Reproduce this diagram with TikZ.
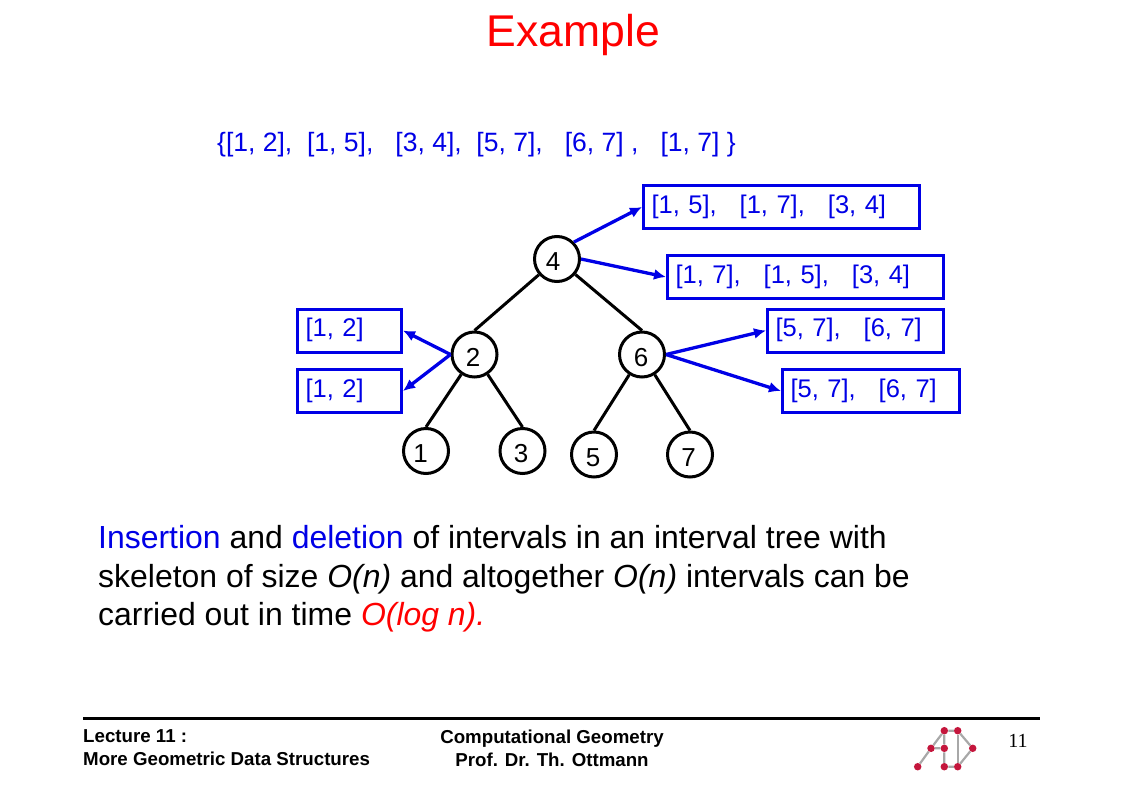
\documentclass[tikz,border=0pt]{standalone}
\usepackage{fontspec}
\setmainfont{Liberation Sans}
\newfontfamily\pagefont{Liberation Serif}
\usetikzlibrary{arrows.meta}
\definecolor{slideblue}{HTML}{0000E6}
\definecolor{slidered}{HTML}{FF0000}
\definecolor{logored}{HTML}{C4163C}
\definecolor{logogray}{HTML}{A8A8A8}
\newcommand{\listgap}{\hspace{23pt}}
\tikzset{
  keynode/.style={draw, circle, line width=3pt, minimum size=45pt, inner sep=0pt,
                  text height=23pt, text depth=0pt,
                  font=\fontsize{26}{30}\selectfont},
  treeedge/.style={line width=3pt},
  listbox/.style={draw=slideblue, text=slideblue, line width=3pt, minimum height=43pt,
                  inner xsep=8pt, inner ysep=0pt, align=left,
                  text height=18pt, text depth=6pt,
                  font=\fontsize{25.5}{30}\selectfont},
  listarrow/.style={line width=3.3pt, slideblue, -{Latex[length=12pt,width=11pt]}},
  footertext/.style={font=\bfseries\fontsize{18.7}{23}\selectfont, inner sep=0pt},
  logoball/.style={circle, fill=logored, minimum size=7.5pt, inner sep=0pt},
  logoedge/.style={logogray, line width=2.2pt},
}
\begin{document}
\begin{tikzpicture}[x=1pt, y=-1pt]
    \useasboundingbox (0,0) rectangle (1123,792);
    % title and interval set
    \node[text=slidered, font=\fontsize{44.5}{50}\selectfont, inner sep=0pt] (title) at (573.5,35) {Example};
    \node[text=slideblue, font=\fontsize{26.5}{30}\selectfont, inner sep=0pt, anchor=west] (setline) at (217,145)
      {\{[1, 2],~~[1, 5],~~~[3, 4],~~[5, 7],~~~[6, 7]~,~~~[1, 7]~\}};
    % tree
    \node[keynode] (n4) at (557,259) {\kern-8pt 4};
    \node[keynode] (n2) at (474.5,354.5) {\kern-3pt 2};
    \node[keynode] (n6) at (642,354.5) {\kern-2pt 6};
    \node[keynode] (n1) at (426,451) {\kern-11pt 1};
    \node[keynode] (n3) at (522.5,451) {\kern-3pt 3};
    \node[keynode] (n5) at (594,454.5) {\kern-2pt 5};
    \node[keynode] (n7) at (690,454.5) {\kern-3pt 7};
    \draw[treeedge] (n4) -- (n2.north);
    \draw[treeedge] (n4) -- (n6.north);
    \draw[treeedge] (n2) -- (n1.north);
    \draw[treeedge] (n2) -- (n3.north);
    \draw[treeedge] (n6) -- (n5.north);
    \draw[treeedge] (n6) -- (n7.north);
    % interval lists
    \node[listbox, text width=260pt] (boxa) at (781.5,207) {[1, 5],\listgap[1, 7],\listgap[3, 4]};
    \node[listbox, text width=260pt] (boxb) at (805.5,277) {[1, 7],\listgap[1, 5],\listgap[3, 4]};
    \node[listbox, text width=160pt] (boxc) at (855.5,330.5) {[5, 7],\listgap[6, 7]};
    \node[listbox, text width=161pt] (boxd) at (871,391) {[5, 7],\listgap[6, 7]};
    \node[listbox, text width=88pt] (boxe) at (349.5,330.5) {[1, 2]};
    \node[listbox, text width=88pt] (boxf) at (349.5,391) {[1, 2]};
    \draw[listarrow] (n4.north east) -- (boxa.west);
    \draw[listarrow] (n4.east) -- (boxb.west);
    \draw[listarrow] (n6.east) -- (boxc.west);
    \draw[listarrow] (n6.east) -- (boxd.west);
    \draw[listarrow] (n2.west) -- (boxe.east);
    \draw[listarrow] (n2.west) -- (boxf.east);
    % statement
    \node[anchor=north west, align=left, inner sep=0pt, font=\fontsize{31.95}{38.5}\selectfont] (statement) at (98,525.5)
      {\textcolor{slideblue}{Insertion} and \textcolor{slideblue}{deletion} of intervals in an interval tree with\\
       skeleton of size \textit{O(n)} and altogether \textit{O(n)} intervals can be\\
       carried out in time \textcolor{slidered}{\textit{O(log n).}}};
    % footer
    \coordinate (ruleleft) at (83,718);
    \coordinate (ruleright) at (1040,718);
    \draw[line width=3pt] (ruleleft) -- (ruleright);
    \node[footertext, anchor=north west, align=left] (footleft) at (83,729.5) {Lecture 11 :\\More Geometric Data Structures};
    \node[footertext, anchor=north, align=center] (footmid) at (552,729.5) {Computational Geometry\\Prof. Dr. Th. Ottmann};
    \node[inner sep=0pt, font=\pagefont\fontsize{20}{22}\selectfont] (pagenum) at (1018,741) {11};
    % logo
    \node[logoball] (la) at (944.3,730.7) {};
    \node[logoball] (lb) at (957.7,730.7) {};
    \node[logoball] (lc) at (931,748.3) {};
    \node[logoball] (ld) at (944.3,748.3) {};
    \node[logoball] (le) at (972.7,748.3) {};
    \node[logoball] (lf) at (917.7,766.7) {};
    \node[logoball] (lg) at (944.3,766.7) {};
    \node[logoball] (lh) at (957.7,766.7) {};
    \draw[logoedge] (la) -- (lb) -- (le) -- (lh) -- (lg) -- (ld) -- (la);
    \draw[logoedge] (lb) -- (lh);
    \draw[logoedge] (la) -- (lc) -- (ld);
    \draw[logoedge] (lc) -- (lf);
\end{tikzpicture}
\end{document}
